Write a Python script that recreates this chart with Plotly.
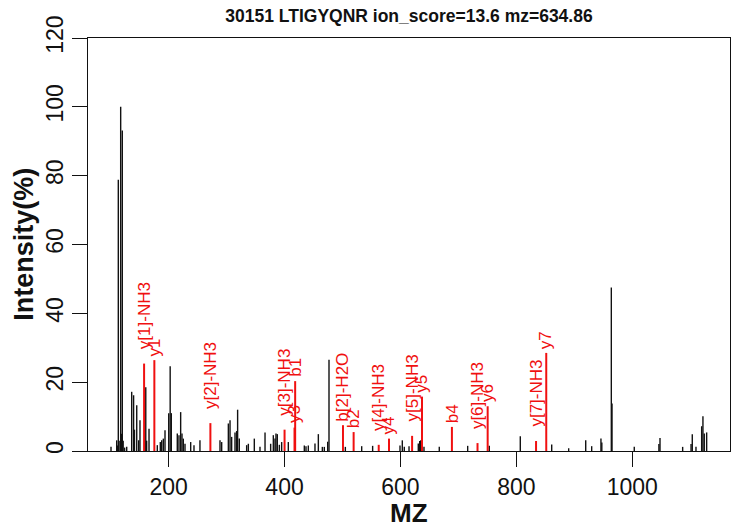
import plotly.graph_objects as go

# ---- data ----
black_mz = [100.5, 110.3, 111.5, 113.1, 114.5, 117.2, 118.5, 120.0, 121.5, 124.0, 127.6,
            136.2, 139.5, 141.0, 144.9, 148.3, 150.5, 160.5, 162.0, 166.1, 180.4, 185.6,
            188.0, 190.8, 193.7, 200.1, 202.6, 204.6, 214.9, 217.8, 220.7, 223.0, 225.3,
            228.2, 238.0, 243.7, 254.0, 288.6, 291.5, 303.0, 305.9, 308.7, 314.5, 317.3,
            319.0, 321.9, 334.6, 337.5, 347.8, 357.6, 366.3, 376.0, 380.6, 383.5, 385.2,
            387.5, 391.0, 395.0, 406.5, 434.1, 437.0, 441.0, 452.5, 458.3, 465.2, 468.6,
            474.4, 476.7, 504.9, 533.1, 552.0, 599.2, 603.2, 606.6, 614.8, 630.8, 633.2,
            634.9, 640.6, 667.0, 716.0, 753.3, 806.8, 861.0, 890.3, 919.7, 930.0, 946.0,
            947.5, 963.9, 965.1, 1003.5, 1046.0, 1047.9, 1087.0, 1101.5, 1103.6, 1110.0,
            1119.8, 1122.0, 1124.3, 1128.4]
black_int = [1.2, 3.1, 1.6, 78.8, 3.0, 100.0, 5.0, 93.1, 3.0, 1.0, 1.2,
             17.2, 16.2, 6.2, 13.3, 3.1, 8.9, 18.5, 3.0, 6.5, 1.7, 2.6,
             3.1, 3.6, 6.0, 11.0, 24.6, 11.0, 5.1, 4.6, 11.3, 5.1, 3.6,
             2.1, 2.6, 1.7, 3.1, 3.1, 2.6, 8.0, 8.9, 4.1, 5.4, 5.8,
             12.0, 3.6, 1.7, 2.1, 3.6, 1.2, 5.4, 2.1, 4.6, 3.6, 5.1,
             4.9, 1.8, 2.6, 2.6, 1.6, 1.4, 1.6, 2.2, 4.9, 1.2, 1.2,
             2.7, 26.5, 1.2, 1.4, 1.5, 1.6, 3.1, 1.2, 1.4, 2.2, 2.9,
             3.1, 1.2, 1.2, 1.5, 1.5, 4.3, 1.9, 0.8, 3.1, 1.4, 3.6,
             2.5, 47.5, 13.8, 1.2, 2.0, 3.8, 1.2, 2.0, 4.9, 1.2,
             7.2, 10.1, 5.1, 5.4]

ion_labels = ["y[1]-NH3", "y1", "y[2]-NH3", "y[3]-NH3", "y3", "b1", "b[2]-H2O", "b2",
              "y[4]-NH3", "y4", "y[5]-NH3", "y5", "b4", "y[6]-NH3", "y6", "y[7]-NH3", "y7"]
ion_mz = [157.6, 175.3, 272.0, 400.0, 417.2, 418.3, 500.8, 519.2,
          562.5, 580.2, 620.1, 637.2, 688.8, 733.0, 750.5, 834.0, 851.6]
ion_int = [25.4, 26.4, 8.1, 6.2, 6.8, 20.3, 7.5, 5.5,
           1.8, 3.6, 4.4, 15.8, 7.0, 2.3, 13.0, 2.9, 28.5]

x_ticks = [200, 400, 600, 800, 1000]
y_ticks = [0, 20, 40, 60, 80, 100, 120]

title_text = "30151 LTIGYQNR ion_score=13.6 mz=634.86"


def stems(xs, ys):
    sx, sy = [], []
    for x, y in zip(xs, ys):
        sx += [x, x, None]
        sy += [0, y, None]
    return sx, sy


FONT = "Liberation Sans, Arial, Helvetica, sans-serif"
RED = "#f01010"
INK = "#111111"

fig = go.Figure()
bx, by = stems(black_mz, black_int)
fig.add_trace(go.Scatter(x=bx, y=by, mode="lines",
                         line=dict(color=INK, width=1.4),
                         hoverinfo="skip", showlegend=False))
rx, ry = stems(ion_mz, ion_int)
fig.add_trace(go.Scatter(x=rx, y=ry, mode="lines",
                         line=dict(color=RED, width=2),
                         hoverinfo="skip", showlegend=False))

for lab, m, h in zip(ion_labels, ion_mz, ion_int):
    lift = 12 if "NH3" in lab else 2
    fig.add_annotation(x=m, y=h, text=lab, textangle=-90, showarrow=False,
                       xanchor="center", yanchor="bottom", yshift=lift,
                       font=dict(family=FONT, size=17, color=RED))

fig.add_annotation(text="MZ", xref="paper", yref="paper", x=0.5, y=-0.151,
                   xanchor="center", yanchor="middle", showarrow=False,
                   font=dict(family=FONT, size=26, color=INK, weight="bold"))
fig.add_annotation(text="Intensity(%)", xref="paper", yref="paper", x=-0.1008, y=0.5,
                   textangle=-90, xanchor="center", yanchor="middle", showarrow=False,
                   font=dict(family=FONT, size=27, color=INK, weight="bold"))

fig.update_layout(
    width=731, height=529,
    margin=dict(l=88, r=1, t=38, b=78),
    paper_bgcolor="white", plot_bgcolor="white",
    title=dict(text=title_text, x=0.5, xref="paper", xanchor="center",
               y=1 - 16 / 529, yref="container", yanchor="middle",
               font=dict(family=FONT, size=17.5, color=INK, weight="bold")),
    font=dict(family=FONT, color=INK),
)
fig.update_xaxes(range=[60.8, 1168.7], tickmode="array", tickvals=x_ticks,
                 ticks="outside", ticklen=15, tickwidth=1, tickcolor=INK,
                 showline=True, linecolor=INK, linewidth=1, mirror=True,
                 showgrid=False, zeroline=False,
                 tickfont=dict(family=FONT, size=23, color=INK))
fig.update_yaxes(range=[0, 120], tickmode="array", tickvals=y_ticks,
                 ticks="outside", ticklen=15, tickwidth=1, tickcolor=INK,
                 showline=True, linecolor=INK, linewidth=1, mirror=True,
                 showgrid=False, zeroline=False, tickangle=-90,
                 tickfont=dict(family=FONT, size=23, color=INK))

fig.write_html("out.html", config={"displayModeBar": False},
               post_script="document.body.style.margin='0';document.body.style.padding='0';")
